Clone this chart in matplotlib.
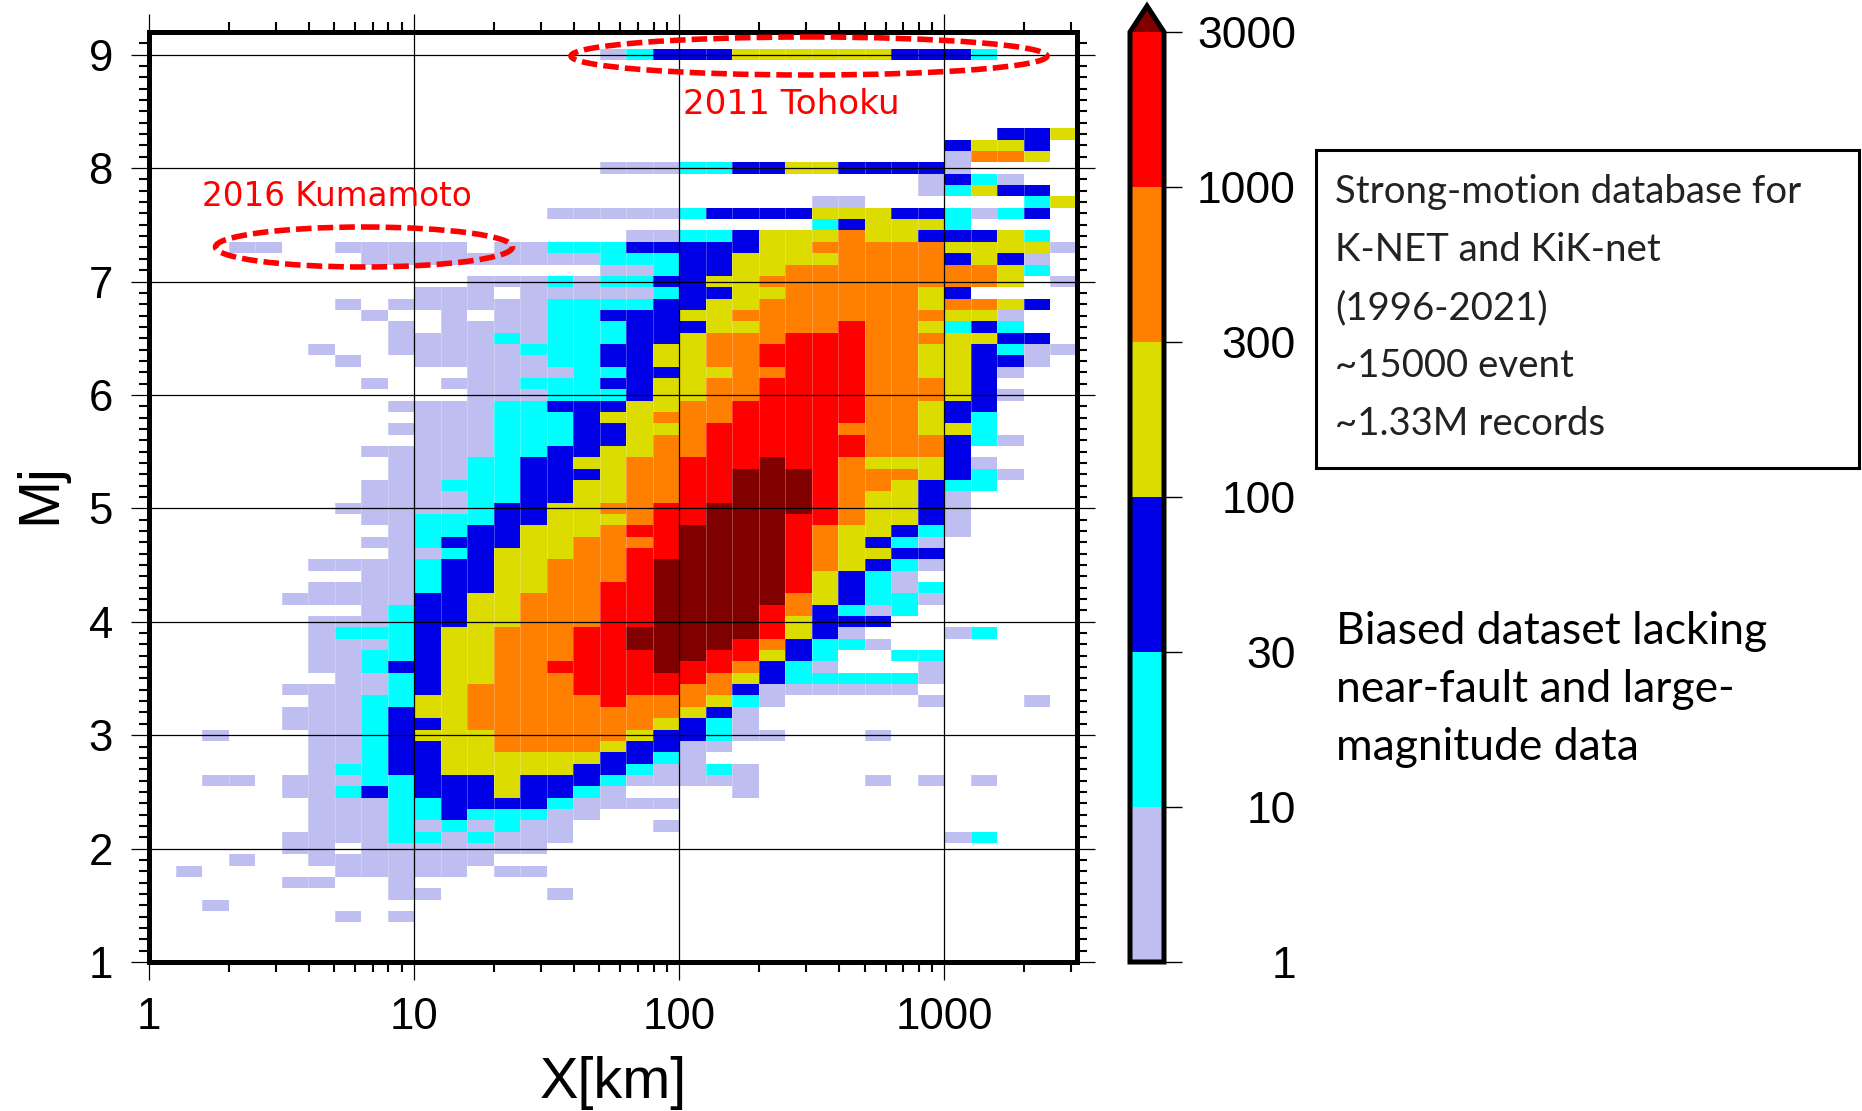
# -*- coding: utf-8 -*-
# Mj vs distance histogram of the K-NET / KiK-net strong motion records

import numpy as np
import matplotlib
matplotlib.use("Agg")
import matplotlib.pyplot as plt
from matplotlib.colors import ListedColormap, BoundaryNorm
from matplotlib.patches import Ellipse, Rectangle
from matplotlib.ticker import FixedLocator, NullFormatter, FuncFormatter

W, H = 1862, 1111

plt.rcParams["font.family"] = ["Liberation Sans", "DejaVu Sans"]

# ==========================================
# DATA
# ==========================================
# colour class of each cell, 0 = 1-10 records ... 6 = above 3000, "." = empty
# 35 columns, one per 0.1 in log10(X), groups of five to keep count
ROW_MAGNITUDES = [round(9.0 - 0.1 * k, 1) for k in range(77)]
ROWS = [
    "..... ..... ..... ..012 22333 33322 21...",  # 9.0
    "..... ..... ..... ..... ..... ..... .....",
    "..... ..... ..... ..... ..... ..... .....",
    "..... ..... ..... ..... ..... ..... .....",
    "..... ..... ..... ..... ..... ..... .....",
    "..... ..... ..... ..... ..... ..... .....",
    "..... ..... ..... ..... ..... ..... .....",
    "..... ..... ..... ..... ..... ..... ..223",
    "..... ..... ..... ..... ..... ..... 2332.",
    "..... ..... ..... ..... ..... ..... 0443.",
    "..... ..... ..... ..000 11223 32222 0....",  # 8.0
    "..... ..... ..... ..... ..... ....0 210..",
    "..... ..... ..... ..... ..... ....0 1322.",
    "..... ..... ..... ..... ..... 00... ...13",
    "..... ..... ..... 00000 12222 33322 1012.",
    "..... ..... ..... ..... ..... 12333 1....",
    "..... ..... ..... ...00 11233 34332 2231.",
    "...00 ..000 00.00 11122 22233 44444 33330",
    "..... ...00 00000 00111 22333 34444 2320.",
    "..... ..... ..... ..001 22334 44444 4431.",
    "..... ..... ..000 10112 23344 44444 443.0",  # 7.0
    "..... ..... 000.0 00001 22334 44443 2....",
    "..... ..0.0 00000 11112 23344 44443 4432.",
    "..... ...0. .0.00 11222 33444 44444 330..",
    "..... ....0 .0000 11122 23344 45443 121..",
    "..... ....0 00010 11122 34445 55444 3322.",
    "..... .0..0 00001 11223 34455 55443 32100",
    "..... ..0.. 00000 11223 34455 55443 3220.",
    "..... ..... ..000 01122 33445 55443 320..",
    "..... ...0. .0001 11223 34455 55444 32...",
    "..... ..... ..000 11123 34455 55444 320..",  # 6.0
    "..... ....0 00011 22233 44555 55443 22...",
    "..... ..... 00011 12334 44555 55443 21...",
    "..... ....0 00011 12233 45555 54443 31...",
    "..... ..... 00011 12234 45555 55444 210..",
    "..... ...00 00011 22334 45555 55444 2....",
    "..... ....0 00112 23344 55565 54333 20...",
    "..... ....0 00112 22344 55666 54443 210..",
    "..... ...00 01112 23344 55666 54432 11...",
    "..... ...00 00112 23344 55666 54332 0....",
    "..... ..000 00122 33445 56666 54332 0....",  # 5.0
    "..... ...00 11122 33345 56665 54332 0....",
    "..... ....0 11223 33455 66665 43321 0....",
    "..... ...00 12223 34445 66665 43210 .....",
    "..... ....0 01233 34455 66665 43322 .....",
    "..... .0000 12233 44456 66665 43210 .....",
    "..... ...00 12233 44456 66665 3210. .....",
    "..... .0000 12233 44556 66665 32101 .....",
    "..... 00000 22334 44556 66664 32110 .....",
    "..... ...01 22334 44556 66654 2101. .....",
    "..... .0001 22334 44556 66653 222.. .....",  # 4.0
    "..... .0111 23344 45566 66653 20... 01...",
    "..... .0001 23344 45566 66542 110.. .....",
    "..... .0011 23344 45556 65532 1..11 .....",
    "..... .0012 23344 55556 55421 0...0 .....",
    "..... ..001 23344 45555 54321 11110 .....",
    "..... 00001 23444 45555 44200 0000. .....",
    "..... .0011 33444 44544 4310. ....0 ...0.",
    "..... 00012 33444 44444 320.. ..... .....",
    "..... 00012 23444 44443 210.. ..... .....",
    "..0.. .0012 33344 44432 2100. ..0.. .....",  # 3.0
    "..... .0012 23344 44322 00... ..... .....",
    "..... .0012 23333 33221 0.... ..... .....",
    "..... .0112 23333 32210 010.. ..... .....",
    "..00. 00011 22232 22100 000.. ..0.0 .0...",
    "..... 00121 22232 210.. ..0.. ..... .....",
    "..... .0001 12222 10000 ..... ..... .....",
    "..... .0001 12111 00... ..... ..... .....",
    "..... .0001 01010 0...0 ..... ..... .....",
    "..... 00001 10100 0.... ..... ..... 01...",
    "..... 00.00 00000 ..... ..... ..... .....",  # 2.0
    "...0. .0000 000.. ..... ..... ..... .....",
    ".0... ..000 00.00 ..... ..... ..... .....",
    "..... 00..0 ..... ..... ..... ..... .....",
    "..... ....0 0.... 0.... ..... ..... .....",
    "..0.. ..... ..... ..... ..... ..... .....",
    "..... ..0.0 ..... ..... ..... ..... .....",
]
CLASS_COUNTS = [5, 20, 50, 200, 500, 2000, 4000]
LEVELS = [1, 10, 30, 100, 300, 1000, 3000]
COLORS = ["#BEBEF0", "#00FFFF", "#0000E6", "#DCDC00", "#FF8000", "#FF0000"]
OVER_COLOR = "#800000"

X_TICKS = [1, 10, 100, 1000]
Y_TICKS = [1, 2, 3, 4, 5, 6, 7, 8, 9]

INFO_LINES = ["Strong-motion database for", "K-NET and KiK-net", "(1996-2021)",
              "~15000 event", "~1.33M records"]
NOTE_LINES = ["Biased dataset lacking", "near-fault and large-", "magnitude data"]


def px_axes(fig, left, top, right, bottom):
    # axes from pixel box, y counted from the top of the image
    return fig.add_axes([left / W, 1 - bottom / H, (right - left) / W, (bottom - top) / H])


counts = np.ma.masked_all((len(ROWS), 35))
for r, row in enumerate(ROWS):
    for c, ch in enumerate(row.replace(" ", "")):
        if ch != ".":
            counts[r, c] = CLASS_COUNTS[int(ch)]

mags = np.array(ROW_MAGNITUDES)
y_edges = np.append(mags + 0.05, mags[-1] - 0.05)
x_edges = 10 ** (np.arange(36) / 10)

fig = plt.figure(figsize=(W / 100, H / 100), dpi=100, facecolor="white")

cmap = ListedColormap(COLORS)
cmap.set_over(OVER_COLOR)
norm = BoundaryNorm(LEVELS, len(COLORS), extend="neither")

# ==========================================
# MAIN PANEL
# ==========================================
ax = px_axes(fig, 149, 32, 1077, 962)
mesh = ax.pcolormesh(x_edges, y_edges, counts, cmap=cmap, norm=norm, shading="flat",
                     linewidth=0, rasterized=True)
ax.set_xscale("log")
ax.set_xlim(1, 10 ** 3.5)
ax.set_ylim(1, 9.2)
ax.set_axisbelow(False)

# the scan shows thin pale seams between the columns
ax.vlines(x_edges, 1, 9.2, color="white", linewidth=0.6, alpha=0.3, zorder=2)

minor_x = [m * 10 ** d for d in range(4) for m in range(2, 10) if m * 10 ** d < 10 ** 3.5]
ax.xaxis.set_major_locator(FixedLocator(X_TICKS))
ax.xaxis.set_minor_locator(FixedLocator(minor_x))
ax.xaxis.set_major_formatter(FuncFormatter(lambda v, p: f"{int(v)}"))
ax.xaxis.set_minor_formatter(NullFormatter())
ax.yaxis.set_major_locator(FixedLocator(Y_TICKS))
ax.yaxis.set_minor_locator(FixedLocator(np.arange(10, 92) / 10))
ax.grid(True, which="major", color="black", linewidth=0.9)
ax.tick_params(which="major", direction="out", top=True, right=True, length=13, width=0.9,
               labelsize=31.5, pad=13)
ax.tick_params(which="minor", direction="out", top=True, right=True, length=7, width=1.5)
ax.tick_params(axis="x", which="major", pad=12)
for s in ax.spines.values():
    s.set_linewidth(3.6)

fig.text(40 / W, 1 - 494 / H, "Mj", fontsize=41.5, rotation=90, ha="center", va="center")
fig.text(613 / W, 1 - 1083 / H, "X[km]", fontsize=41.5, ha="center", va="center")

# ==========================================
# COLOUR BAR
# ==========================================
# the arrow sits inside the axes box, so the box starts at its tip
cax = px_axes(fig, 1130, 6, 1164, 962)
cb = fig.colorbar(mesh, cax=cax, extend="max", extendfrac=0.028, ticks=LEVELS, spacing="uniform")
cb.ax.set_yticklabels([str(v) for v in LEVELS])
cb.ax.tick_params(length=13, width=1, labelsize=32, pad=0)
cb.outline.set_linewidth(3.6)
for lab in cb.ax.get_yticklabels():
    lab.set_horizontalalignment("right")
    lab.set_x(4.35)
cb.ax.minorticks_off()

# ==========================================
# OVERLAY IN IMAGE PIXELS
# ==========================================
over = fig.add_axes([0, 0, 1, 1], facecolor="none")
over.set_xlim(0, W)
over.set_ylim(H, 0)
over.axis("off")

for cx, cy, w, h in [(364, 247, 297, 40), (809, 56, 476, 38)]:
    over.add_patch(Ellipse((cx, cy), w, h, fill=False, edgecolor="#FF0000", linewidth=4,
                           linestyle=(0, (2.8, 1.1))))

red_font = ["DejaVu Sans"]
over.text(337, 197, "2016 Kumamoto", color="#FF0000", fontsize=23.5, ha="center", va="center", family=red_font)
over.text(791, 105, "2011 Tohoku", color="#FF0000", fontsize=24.6, ha="center", va="center", family=red_font)

over.add_patch(Rectangle((1316, 150), 543, 318, fill=False, edgecolor="black", linewidth=2.2))
for line, y in zip(INFO_LINES, [192, 250, 308, 366, 424]):
    over.text(1335, y, line, fontsize=27.6, family=["Lato", "DejaVu Sans"], ha="left", va="center", color="#222222")
for line, y in zip(NOTE_LINES, [632, 690, 748]):
    over.text(1336, y, line, fontsize=32, family=["Lato", "DejaVu Sans"], ha="left", va="center", color="black")

fig.savefig("out.png", dpi=100)
